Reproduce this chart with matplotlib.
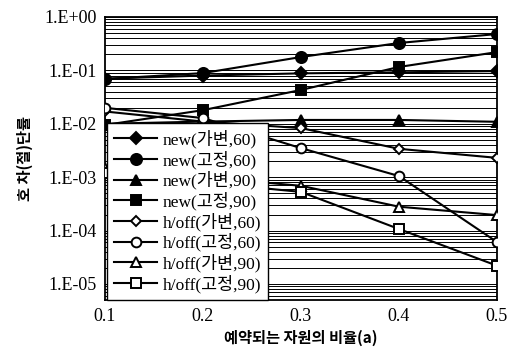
import matplotlib
matplotlib.use("Agg")
import matplotlib.pyplot as plt
import numpy as np
from matplotlib.ticker import FixedLocator, FuncFormatter, LogLocator, NullFormatter

plt.rcParams["font.family"] = ["Liberation Serif", "Noto Sans CJK KR"]

# Data (x = reserved resource ratio)
ratio = [0.1, 0.2, 0.3, 0.4, 0.5]
new_var_60 = [0.070, 0.080, 0.088, 0.092, 0.097]
new_fix_60 = [0.069, 0.089, 0.178, 0.326, 0.48]
new_var_90 = [0.010, 0.011, 0.0118, 0.0118, 0.0109]
new_fix_90 = [0.0095, 0.018, 0.043, 0.116, 0.22]
ho_var_60 = [0.017, 0.011, 0.0083, 0.0034, 0.0023]
ho_fix_60 = [0.0199, 0.0128, 0.0035, 0.00105, 6.1e-5]
ho_var_90 = [0.0015, 0.0010, 0.00069, 0.00028, 0.000195]
ho_fix_90 = [0.0012, 0.0008, 0.00053, 0.000107, 2.2e-5]

series = [
    ("new(가변,60)", new_var_60, "D", "black", 6),
    ("new(고정,60)", new_fix_60, "o", "black", 8),
    ("new(가변,90)", new_var_90, "^", "black", 7.5),
    ("new(고정,90)", new_fix_90, "s", "black", 7.5),
    ("h/off(가변,60)", ho_var_60, "D", "white", 5.5),
    ("h/off(고정,60)", ho_fix_60, "o", "white", 7),
    ("h/off(가변,90)", ho_var_90, "^", "white", 7),
    ("h/off(고정,90)", ho_fix_90, "s", "white", 7),
]

fig = plt.figure(figsize=(5.19, 3.49), dpi=100)
ax = fig.add_axes([0.2023, 0.1404, 0.7553, 0.8109])

for label, vals, mk, fc, ms in series:
    ax.plot(ratio, vals, color="black", lw=1.5, marker=mk, markersize=ms,
            markerfacecolor=fc, markeredgecolor="black", markeredgewidth=1.4,
            label=label, zorder=3)

ax.set_yscale("log")
ax.set_ylim(10 ** -5.3, 1)
ax.set_xlim(0.1, 0.5)
ax.xaxis.set_major_locator(FixedLocator(ratio))
ax.set_xticklabels([f"{v:.1f}" for v in ratio])
ax.yaxis.set_major_locator(FixedLocator([1e-5, 1e-4, 1e-3, 1e-2, 1e-1, 1]))
ax.yaxis.set_major_formatter(
    FuncFormatter(lambda v, p: f"1.E{int(round(np.log10(v))):+03d}"))
ax.yaxis.set_minor_locator(LogLocator(base=10, subs=np.arange(2, 10), numticks=20))
ax.yaxis.set_minor_formatter(NullFormatter())

# dense horizontal grid as in the scanned figure
ax.grid(True, axis="y", which="both", color="black", lw=0.7)
ax.tick_params(axis="both", which="both", length=0, labelsize=13, pad=6)
for s in ax.spines.values():
    s.set_linewidth(1.3)

ax.set_xlabel("예약되는 자원의 비율(a)", fontsize=11, fontweight="bold",
              family=["Noto Sans CJK KR"], labelpad=3)
ax.set_ylabel("호 차(절)단률", fontsize=11, fontweight="bold",
              family=["Noto Sans CJK KR"], labelpad=8)

leg = ax.legend(loc="lower left", bbox_to_anchor=(0.005, 0.0), borderaxespad=0,
                fontsize=12.5, handlelength=2.5, labelspacing=0.12,
                handletextpad=0.3, borderpad=0.4, fancybox=False,
                framealpha=1, edgecolor="black")
leg.get_frame().set_linewidth(1.0)
leg.set_zorder(5)

fig.savefig("out.png", dpi=100)
